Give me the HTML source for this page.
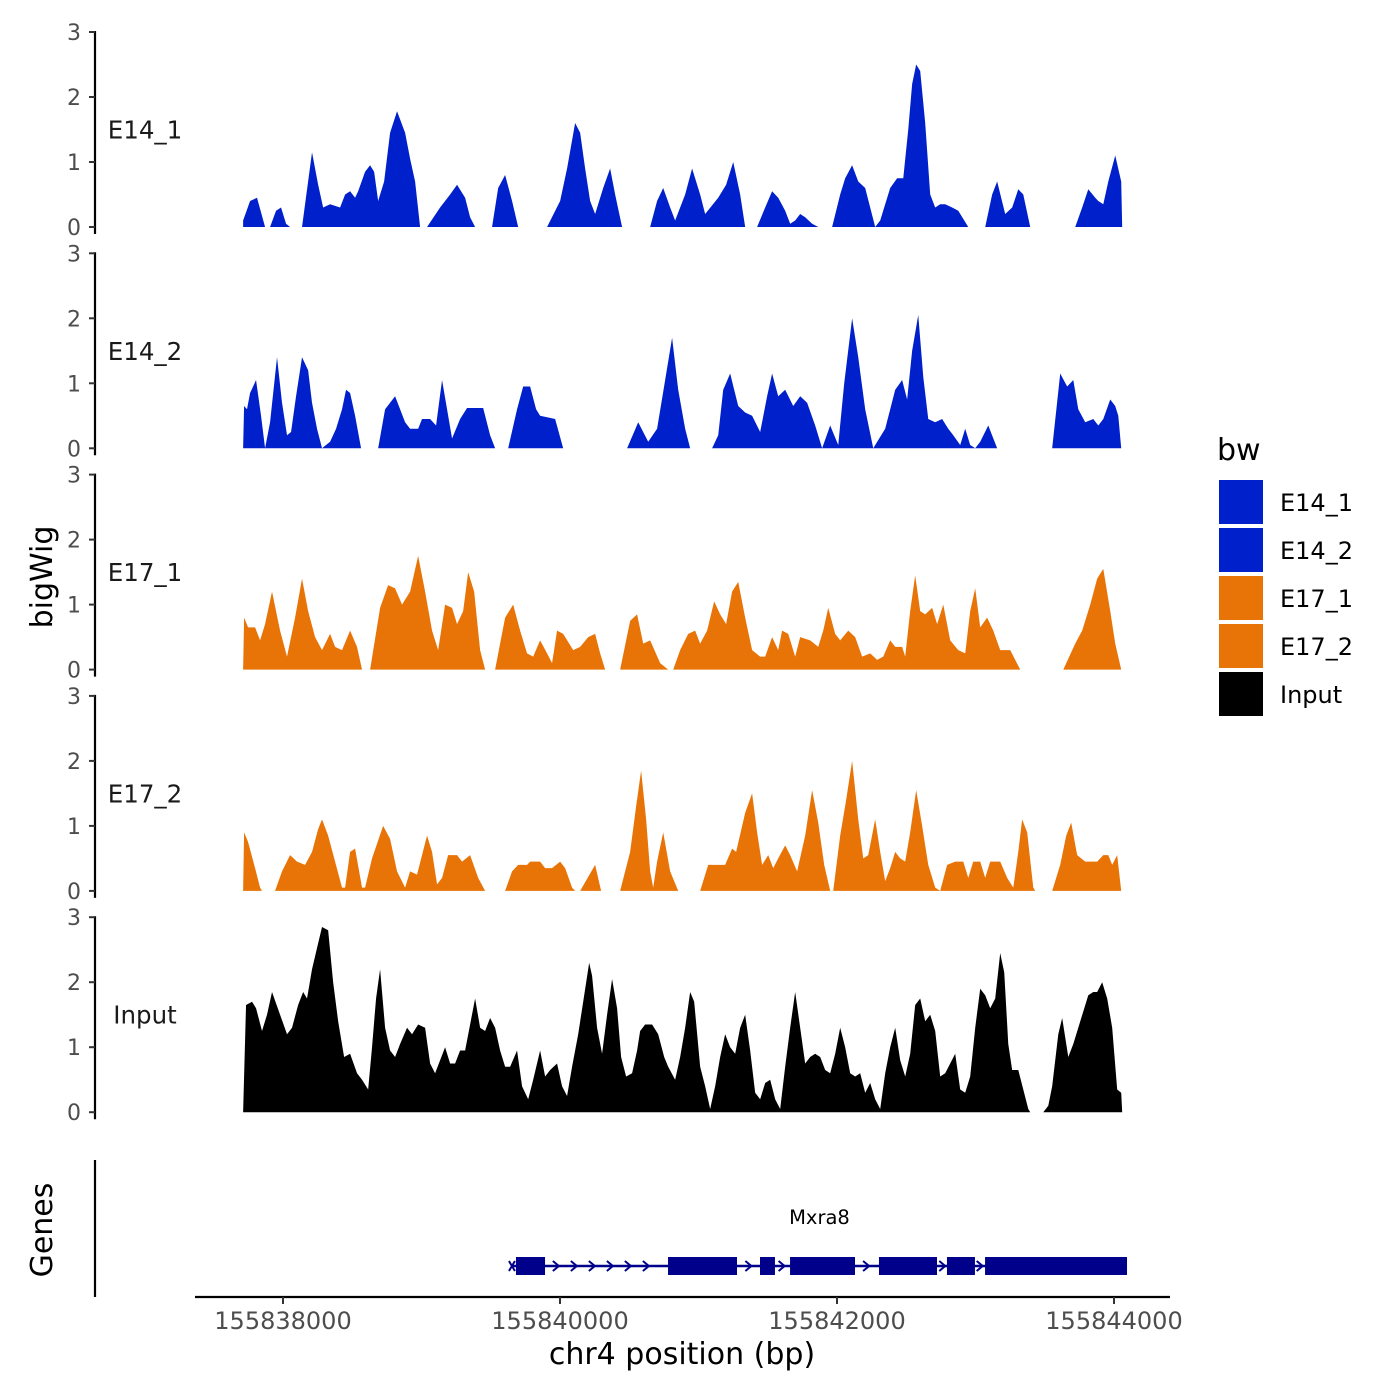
<!DOCTYPE html>
<html><head><meta charset="utf-8">
<style>
html,body{margin:0;padding:0;background:#fff;}
svg{display:block;font-family:"DejaVu Sans","Liberation Sans",sans-serif;}
</style></head>
<body>
<svg id="chart" width="1400" height="1400" viewBox="0 0 1400 1400">
<rect width="1400" height="1400" fill="#fff"/>
<g id="tracks"></g>
<g id="genes"></g>
<g id="xaxis"></g>
<text x="52" y="577" transform="rotate(-90 52 577)" text-anchor="middle" font-size="30" fill="#000">bigWig</text>
<text x="52" y="1230" transform="rotate(-90 52 1230)" text-anchor="middle" font-size="30" fill="#000">Genes</text>
<text x="682" y="1364" text-anchor="middle" font-size="30" fill="#000">chr4 position (bp)</text>
<g id="legend">
<text x="1217" y="460" font-size="30" fill="#000">bw</text>
</g>
</svg>
<script>
// ---- data ----
const regionStart = 155837690; // positions below are bp offsets from this
const trackNames = ["E14_1","E14_2","E17_1","E17_2","Input"];
const trackColors = ["#0020CC","#0020CC","#E87306","#E87306","#000000"];
const yTicks = [0,1,2,3];
const xTicks = [155838000,155840000,155842000,155844000];

const e14_1_pos = [22,72,122,180,216,259,295,331,360,446,518,562,598,648,720,756,792,828,850,900,936,965,994,1037,1080,1130,1188,1224,1260,1296,1346,1440,1512,1562,1620,1656,1692,1814,1858,1908,1958,2002,2210,2304,2354,2412,2448,2484,2520,2556,2614,2664,2700,2750,2952,3002,3046,3096,3132,3204,3254,3312,3348,3442,3499,3550,3600,3636,3722,3780,3830,3874,3924,3960,3996,4032,4068,4118,4162,4262,4320,4356,4406,4450,4500,4572,4608,4680,4730,4774,4810,4838,4867,4896,4932,4968,5004,5040,5076,5126,5170,5242,5364,5414,5450,5508,5558,5602,5638,5688,6012,6062,6106,6156,6178,6214,6250,6300,6343,6350];
const e14_1_val = [0.1,0.4,0.45,0,0,0.25,0.3,0.05,0,0,1.15,0.65,0.3,0.35,0.3,0.5,0.55,0.45,0.55,0.85,0.95,0.85,0.4,0.7,1.45,1.78,1.45,1.05,0.7,0,0,0.3,0.5,0.65,0.45,0.15,0,0,0.6,0.8,0.4,0,0,0.4,0.9,1.6,1.45,0.9,0.4,0.2,0.6,0.9,0.5,0,0,0.4,0.6,0.3,0.1,0.5,0.9,0.5,0.2,0.45,0.65,1.0,0.5,0,0,0.3,0.55,0.45,0.25,0.05,0.1,0.2,0.15,0.05,0,0,0.5,0.75,0.95,0.7,0.6,0,0.1,0.6,0.75,0.75,1.5,2.2,2.5,2.4,1.6,0.5,0.3,0.35,0.35,0.3,0.25,0,0,0.5,0.7,0.2,0.3,0.58,0.5,0,0,0.3,0.58,0.45,0.4,0.35,0.7,1.1,0.7,0];

const e14_2_pos = [22,29,50,72,115,151,180,216,266,302,338,367,403,446,490,518,554,590,648,691,734,763,792,828,871,994,1044,1116,1188,1224,1282,1310,1368,1411,1454,1490,1526,1584,1634,1750,1800,1836,1930,1994,2038,2088,2131,2160,2268,2326,2786,2866,2938,3002,3060,3110,3154,3204,3240,3398,3442,3478,3528,3586,3636,3686,3744,3794,3830,3874,3924,3982,4032,4082,4140,4190,4248,4306,4349,4406,4450,4500,4558,4644,4716,4766,4802,4838,4882,4918,4954,5004,5054,5098,5134,5184,5220,5256,5292,5328,5386,5450,5846,5904,5954,5998,6034,6084,6142,6178,6214,6264,6300,6322,6343];
const e14_2_val = [0,0.65,0.6,0.85,1.05,0.5,0,0.4,1.4,0.7,0.2,0.25,0.8,1.4,1.2,0.7,0.3,0,0.1,0.3,0.6,0.9,0.85,0.5,0,0,0.6,0.8,0.4,0.3,0.3,0.45,0.45,0.35,1.05,0.6,0.15,0.45,0.62,0.62,0.2,0,0,0.6,0.95,0.95,0.6,0.5,0.45,0,0,0.4,0.1,0.3,1.05,1.7,0.9,0.3,0,0,0.2,0.9,1.15,0.65,0.55,0.5,0.25,0.8,1.15,0.8,0.9,0.65,0.8,0.7,0.35,0,0.35,0.05,1.0,2.0,1.4,0.6,0,0.3,0.9,1.05,0.75,1.5,2.05,1.1,0.45,0.4,0.45,0.3,0.2,0.05,0.3,0.05,0,0.1,0.35,0,0,1.15,0.95,1.05,0.6,0.4,0.45,0.35,0.45,0.75,0.65,0.5,0];

const e17_1_pos = [22,29,58,108,144,180,230,288,338,396,446,490,540,590,648,684,734,792,842,878,936,1008,1066,1116,1166,1224,1282,1332,1382,1426,1476,1526,1562,1606,1642,1685,1728,1764,1836,1908,1966,2016,2066,2110,2160,2210,2246,2282,2326,2398,2448,2506,2556,2592,2628,2736,2808,2858,2902,2952,3024,3082,3118,3168,3226,3276,3312,3362,3413,3456,3499,3542,3586,3636,3686,3744,3780,3830,3874,3902,3946,3996,4032,4104,4162,4198,4234,4284,4320,4378,4428,4478,4536,4586,4630,4680,4716,4766,4788,4824,4860,4896,4932,4982,5018,5062,5112,5170,5220,5256,5292,5328,5378,5422,5472,5544,5616,5926,6012,6062,6120,6170,6214,6264,6300,6343];
const e17_1_val = [0,0.8,0.65,0.65,0.45,0.7,1.2,0.6,0.2,0.8,1.4,0.9,0.5,0.3,0.55,0.35,0.3,0.6,0.35,0,0,0.95,1.3,1.25,1.0,1.2,1.75,1.2,0.6,0.3,1.0,0.95,0.7,0.9,1.5,1.2,0.3,0,0,0.8,1.0,0.6,0.25,0.2,0.45,0.25,0.1,0.6,0.55,0.3,0.35,0.5,0.55,0.25,0,0,0.75,0.85,0.4,0.45,0.1,0,0,0.3,0.55,0.6,0.4,0.6,1.05,0.85,0.7,1.2,1.35,0.8,0.3,0.2,0.2,0.5,0.3,0.6,0.55,0.2,0.5,0.45,0.35,0.6,0.95,0.55,0.45,0.6,0.5,0.2,0.25,0.15,0.2,0.45,0.35,0.35,0.2,0.9,1.45,0.9,0.85,0.95,0.7,1.0,0.45,0.3,0.25,0.9,1.25,0.65,0.8,0.6,0.3,0.3,0,0,0.4,0.6,1.0,1.4,1.55,0.9,0.4,0];

const e17_2_pos = [22,29,58,108,144,158,252,302,360,410,468,518,562,590,634,684,734,756,792,828,878,900,950,1030,1080,1130,1188,1224,1274,1346,1382,1418,1454,1498,1562,1598,1656,1714,1764,1908,1958,2002,2066,2088,2160,2196,2246,2304,2340,2390,2412,2448,2556,2599,2736,2808,2851,2887,2923,2952,2974,3002,3046,3096,3154,3312,3370,3492,3542,3571,3636,3686,3722,3758,3802,3838,3874,3924,3960,4010,4068,4118,4162,4205,4248,4270,4320,4363,4406,4450,4486,4522,4572,4608,4644,4680,4716,4752,4788,4824,4867,4910,4954,5004,5040,5090,5148,5206,5242,5278,5328,5364,5400,5472,5522,5566,5602,5630,5666,5710,5724,5846,5904,5947,5983,6026,6084,6170,6214,6250,6278,6314,6343];
const e17_2_val = [0,0.9,0.75,0.35,0.05,0,0,0.3,0.55,0.45,0.4,0.6,0.95,1.1,0.85,0.45,0.05,0.05,0.6,0.65,0.05,0.05,0.5,1.0,0.8,0.3,0.05,0.3,0.25,0.85,0.6,0.1,0.2,0.55,0.55,0.45,0.55,0.2,0,0,0.3,0.4,0.4,0.45,0.45,0.35,0.35,0.45,0.35,0.05,0,0,0.4,0,0,0.6,1.3,1.85,1.1,0.3,0.05,0.45,0.9,0.3,0,0,0.4,0.4,0.65,0.6,1.2,1.5,0.9,0.4,0.55,0.35,0.5,0.7,0.55,0.3,0.85,1.55,1.05,0.4,0,0,0.85,1.4,2.0,1.1,0.5,0.55,1.1,0.6,0.15,0.35,0.6,0.5,0.45,0.9,1.55,1.0,0.4,0.05,0,0.4,0.45,0.45,0.2,0.45,0.45,0.2,0.45,0.45,0.2,0.05,0.6,1.1,0.9,0.05,0,0,0.4,0.85,1.05,0.55,0.45,0.45,0.55,0.55,0.4,0.55,0];

const input_pos = [22,43,86,115,158,194,230,288,338,374,418,454,482,518,562,590,634,670,706,749,792,842,878,922,950,979,1008,1044,1080,1116,1152,1202,1238,1282,1332,1368,1404,1440,1476,1512,1548,1584,1620,1656,1692,1728,1764,1800,1836,1872,1908,1944,1994,2030,2074,2110,2160,2196,2232,2282,2318,2354,2390,2434,2470,2513,2534,2570,2606,2642,2678,2714,2743,2779,2822,2858,2880,2916,2966,3010,3053,3082,3132,3168,3204,3240,3269,3312,3348,3384,3420,3456,3492,3528,3564,3600,3636,3672,3708,3744,3780,3816,3852,3888,3924,3960,3996,4032,4068,4104,4140,4176,4212,4248,4284,4320,4356,4392,4428,4464,4500,4536,4572,4608,4644,4680,4716,4752,4788,4824,4860,4896,4932,4968,5004,5040,5076,5112,5148,5184,5220,5256,5292,5328,5364,5400,5436,5472,5501,5530,5558,5602,5638,5674,5688,5782,5818,5846,5890,5918,5962,5998,6034,6070,6106,6142,6170,6206,6242,6278,6314,6343,6350];
const input_val = [0,1.65,1.7,1.6,1.25,1.5,1.85,1.5,1.2,1.3,1.65,1.85,1.75,2.2,2.6,2.85,2.8,2.0,1.4,0.85,0.9,0.6,0.5,0.35,1.0,1.75,2.2,1.3,0.95,0.85,1.05,1.3,1.2,1.35,1.3,0.75,0.6,0.8,1.0,0.75,0.75,0.95,0.95,1.35,1.75,1.3,1.25,1.45,1.3,0.95,0.7,0.7,0.95,0.4,0.2,0.5,0.95,0.55,0.65,0.75,0.4,0.25,0.7,1.2,1.7,2.3,2.1,1.3,0.9,1.5,2.05,1.6,0.85,0.55,0.6,0.95,1.25,1.35,1.35,1.2,0.85,0.7,0.5,0.85,1.3,1.85,1.7,0.7,0.4,0.05,0.4,0.85,1.2,1.0,0.9,1.3,1.5,0.95,0.3,0.2,0.45,0.5,0.2,0.05,0.7,1.3,1.85,1.3,0.75,0.85,0.9,0.85,0.65,0.6,0.9,1.3,1.0,0.6,0.55,0.6,0.3,0.45,0.2,0.05,0.6,1.0,1.3,0.8,0.55,0.9,1.65,1.75,1.4,1.5,1.25,0.55,0.6,0.75,0.9,0.35,0.3,0.55,1.3,1.9,1.8,1.6,1.75,2.45,2.15,1.05,0.65,0.65,0.35,0.05,0,0,0.1,0.4,1.2,1.45,0.85,1.05,1.3,1.55,1.8,1.85,1.85,2.0,1.75,1.3,0.35,0.3,0];

const trackPos = [e14_1_pos,e14_2_pos,e17_1_pos,e17_2_pos,input_pos];
const trackVal = [e14_1_val,e14_2_val,e17_1_val,e17_2_val,input_val];

// gene model (absolute bp)
const geneName = "Mxra8";
const geneStart = 155839653, geneEnd = 155844094;
const exonStarts = [155839682,155840780,155841444,155841661,155842303,155842794,155843069];
const exonEnds   = [155839892,155841278,155841552,155842130,155842722,155842996,155844094];
const arrowPosBp = [155839970,155840100,155840230,155840360,155840490,155840620,155841360,155841600,155842210,155842760,155843030];

// ---- scales ----
const NS = "http://www.w3.org/2000/svg";
function xScale(bp){ return 283 + (bp - 155838000) * 0.1385; }
function relBp(rel){ return regionStart + rel * 1.003; }
const panelTop0 = 32, panelStep = 221.3, unitPx = 65;
function yScale(i, v){ return panelTop0 + i*panelStep + (3 - v) * unitPx; }
function mk(tag, attrs, parent){ const e=document.createElementNS(NS,tag); for(const k in attrs) e.setAttribute(k, attrs[k]); parent.appendChild(e); return e; }

const tracksG = document.getElementById('tracks');
trackNames.forEach((name, i) => {
  const g = mk('g', {}, tracksG);
  
  
  const pos = trackPos[i], val = trackVal[i];
  const base = yScale(i, 0);
  let d = 'M' + xScale(relBp(pos[0])).toFixed(2) + ',' + base;
  for (let k = 0; k < pos.length; k++) d += 'L' + xScale(relBp(pos[k])).toFixed(2) + ',' + yScale(i, val[k]).toFixed(2);
  d += 'L' + xScale(relBp(pos[pos.length-1])).toFixed(2) + ',' + base + 'Z';
  const area = mk('path', {d: d, fill: trackColors[i]}, g);
  
  
  const ax = mk('line', {x1:95, x2:95, y1: yScale(i,3)-1, y2: yScale(i,0)+7, stroke:'#000', 'stroke-width':2.2}, g);
  
  
  yTicks.forEach(t => {
    const tk = mk('line', {x1:89, x2:95, y1:yScale(i,t), y2:yScale(i,t), stroke:'#333', 'stroke-width':2}, g);
    
    
    const tl = mk('text', {x:81, y:yScale(i,t)+8, 'text-anchor':'end', 'font-size':22, fill:'#4d4d4d'}, g);
    tl.textContent = t;
    
    
  });
  const lab = mk('text', {x:145, y: yScale(i,1.5)+9, 'text-anchor':'middle', 'font-size':24.5, fill:'#1a1a1a'}, g);
  lab.textContent = name;
  
  
});

// gene track
const gG = document.getElementById('genes');
const gax = mk('line', {x1:95,x2:95,y1:1160,y2:1297,stroke:'#000','stroke-width':2.2}, gG);


const gy = 1266;
const gl = mk('line', {x1:xScale(geneStart), x2:xScale(geneEnd), y1:gy, y2:gy, stroke:'#00008B','stroke-width':2.5}, gG);


exonStarts.forEach((s, k) => {
  const r = mk('rect', {x:xScale(s), y:gy-9, width:xScale(exonEnds[k])-xScale(s), height:18, fill:'#00008B'}, gG);
  
  
});
arrowPosBp.forEach(p => {
  const ax = xScale(p);
  const a = mk('path', {d:`M${ax-3},${gy-5}L${ax+3},${gy}L${ax-3},${gy+5}`, fill:'none', stroke:'#00008B','stroke-width':2}, gG);
  
  
});
const gx0 = xScale(geneStart);
const xm = mk('path', {d:`M${gx0-3},${gy-5}L${gx0+3},${gy+5}M${gx0-3},${gy+5}L${gx0+3},${gy-5}`, stroke:'#00008B','stroke-width':2}, gG);


const gn = mk('text', {x:(xScale(geneStart)+xScale(geneEnd))/2, y:1224, 'text-anchor':'middle','font-size':19.5, fill:'#000'}, gG);
gn.textContent = geneName;



// x axis
const xG = document.getElementById('xaxis');
const xl = mk('line', {x1:195, x2:1170, y1:1297, y2:1297, stroke:'#000','stroke-width':2.2}, xG);


xTicks.forEach(t => {
  const tk = mk('line', {x1:xScale(t), x2:xScale(t), y1:1297, y2:1304, stroke:'#333','stroke-width':2}, xG);
  
  
  const tl = mk('text', {x:xScale(t), y:1329, 'text-anchor':'middle','font-size':24, fill:'#4d4d4d'}, xG);
  tl.textContent = t;
  
  
});

// legend
const lG = document.getElementById('legend');
trackNames.forEach((name, i) => {
  const y = 480 + i*48;
  const r = mk('rect', {x:1219, y:y, width:44, height:44, fill:trackColors[i]}, lG);
  
  
  const t = mk('text', {x:1280, y:y+31, 'font-size':24, fill:'#000'}, lG);
  t.textContent = name;
  
  
});
</script>
</body></html>
